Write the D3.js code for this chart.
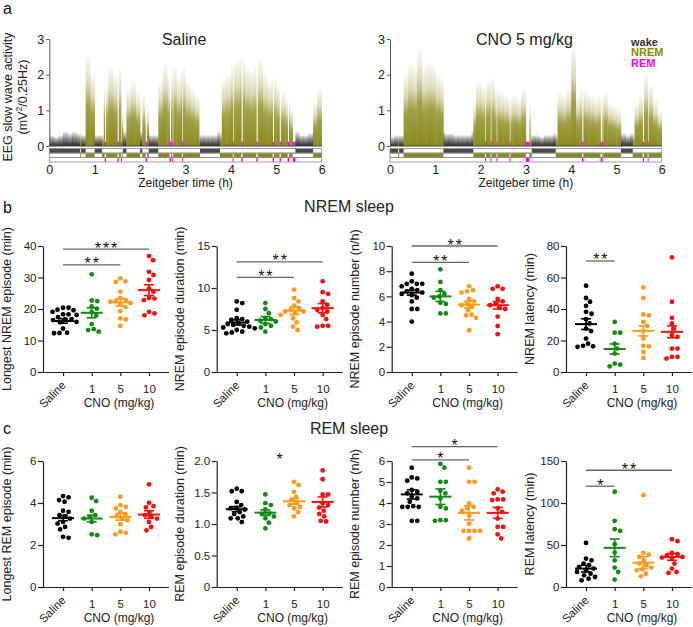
<!DOCTYPE html>
<html><head><meta charset="utf-8">
<script src="https://cdn.jsdelivr.net/npm/d3@7"></script>
<style>body{margin:0;background:#fff}svg{font-family:"Liberation Sans",Arial,Helvetica,sans-serif}</style>
</head><body><svg id="c" width="693" height="627"></svg>
<script>
// ---------------- DATA ----------------
const hourTicks = [0, 1, 2, 3, 4, 5, 6];
const swaTicks = [0, 1, 2, 3];
// EEG slow-wave activity envelope, 0.1 h bins (mV^2/0.25Hz)
const salineSWA = [0.3,0.25,0.3,0.4,0.35,0.45,0.35,0.3,2.5,2.0,
  0.3,0.3,1.7,2.2,2.0,2.2,1.0,1.6,1.8,1.5,
  1.4,1.0,0.3,0.3,1.8,2.3,1.9,2.2,1.9,2.2,
  1.8,1.6,1.4,0.3,0.3,0.3,0.3,0.4,1.9,2.0,
  2.3,2.4,2.5,2.2,2.1,2.2,2.4,2.0,1.8,1.9,
  1.7,1.5,1.3,1.0,0.6,0.3,0.3,0.35,1.2,1.6];
const cnoSWA = [0.25,0.3,0.3,2.0,2.3,2.2,2.7,2.2,2.3,2.3,
  2.0,1.9,0.35,0.35,0.3,0.3,0.3,0.3,1.2,1.8,
  1.7,1.8,1.9,1.6,1.5,1.4,1.3,1.4,1.3,1.6,
  1.2,0.3,0.3,0.25,0.3,0.3,0.35,1.5,1.4,1.6,
  2.8,1.4,1.6,1.5,1.4,1.3,1.4,1.5,1.2,1.1,
  1.0,0.35,0.3,0.35,1.2,1.4,2.0,1.7,1.3,1.0];
// sleep-state episodes [start h, end h]
const salineNREM = [[0.68,0.70],[0.80,1.00],[1.16,1.62],[1.70,2.00],[2.05,2.19],[2.40,3.32],[3.76,5.42],[5.81,6.0]];
const salineREM = [[1.22,1.25],[1.50,1.53],[1.58,1.60],[2.12,2.15],[2.65,2.68],[2.71,2.73],[2.92,2.94],[4.04,4.06],[4.23,4.26],[4.56,4.59],[4.92,4.95],[5.07,5.10],[5.25,5.28],[5.36,5.42]];
const cnoNREM = [[0.18,0.20],[0.30,1.18],[1.84,3.13],[3.66,5.10],[5.36,6.0]];
const cnoREM = [[2.10,2.12],[2.22,2.24],[2.35,2.37],[2.64,2.66],[3.00,3.08],[4.24,4.27],[4.65,4.68],[4.69,4.71],[5.58,5.61],[5.69,5.71]];

const groups = ["Saline", "1", "5", "10"];

// b: NREM sleep  (per group: Saline, CNO 1, 5, 10 mg/kg)
const longestNREM = [
  [20.4,20.4,19.8,19.6,19.1,18.3,18.3,18.1,17.4,16.8,16.7,16.5,15.9,15.8,13.8,12.4,12.5,12.3],
  [31.0,22.7,22.5,20.8,20.1,19.0,18.0,15.2,13.6,13.3,12.8],
  [29.7,28.6,28.8,25.5,23.5,22.9,22.3,22.5,21.9,21.4,20.6,19.3,17.0,16.7,14.6],
  [36.8,35.5,31.8,30.8,29.2,26.5,25.5,23.3,22.8,23.5,19.1,18.0,18.6]];
const longestNREMMean = [16.2, 18.8, 22.1, 26.0];
const longestNREMSem = [0.7, 1.6, 1.2, 1.7];

const nremDuration = [
  [8.4,8.2,7.4,6.4,6.3,6.2,6.0,5.8,5.7,5.6,5.5,5.4,5.3,5.2,5.0,4.8,4.6,4.7],
  [8.2,7.5,7.0,6.4,6.3,6.1,6.0,5.7,5.5,5.3,4.8],
  [9.8,8.8,8.4,7.9,7.6,7.4,7.2,7.2,7.0,6.8,6.4,5.9,5.4,5.0],
  [10.8,9.5,9.3,8.4,8.0,7.6,7.4,7.2,6.8,6.3,5.5,5.5,5.4]];
const nremDurationMean = [5.9, 6.2, 7.3, 7.6];
const nremDurationSem = [0.3, 0.4, 0.45, 0.55];

const nremNumber = [
  [7.8,7.2,7.0,7.0,7.0,6.8,6.6,6.5,6.4,6.3,6.2,6.1,5.9,5.6,5.0,5.0,4.0],
  [8.15,7.15,6.5,6.2,6.0,5.9,5.5,5.4,4.65,4.65],
  [6.8,6.5,6.4,6.3,5.8,5.6,5.4,5.3,5.2,4.9,4.55,4.5,4.3,3.3],
  [6.8,6.6,6.6,5.8,5.6,5.4,5.3,5.1,5.0,4.4,3.65,3.0]];
const nremNumberMean = [6.3, 6.0, 5.35, 5.3];
const nremNumberSem = [0.2, 0.4, 0.27, 0.3];

const nremLatency = [
  [54.8,47.0,44.6,42.0,38.2,37.0,33.5,30.8,27.6,26.0,21.2,18.0,16.6,16.0,16.3],
  [31.8,25.0,25.0,18.0,14.9,11.7,5.3,4.7,3.6],
  [53.7,47.0,36.5,36.0,31.8,29.3,26.0,21.2,16.6,16.3,12.7,8.9],
  [72.8,44.6,34.4,30.8,27.6,23.4,22.3,14.9,14.9,9.6,8.5,9.6]];
const nremLatencyMean = [30.4, 14.6, 26.1, 25.5];
const nremLatencySem = [3.4, 3.2, 3.2, 3.8];

// c: REM sleep
const longestREM = [
  [4.33,4.27,4.14,4.06,3.63,3.58,3.42,3.37,3.26,3.10,3.02,2.86,2.74,2.39,2.34],
  [4.25,4.09,3.63,3.42,3.34,3.26,3.10,2.51,2.47],
  [4.30,3.90,3.82,3.74,3.58,3.47,3.37,3.26,3.18,2.99,2.63,2.58,2.51],
  [4.89,4.01,3.85,3.79,3.58,3.42,3.34,3.26,3.10,2.86,2.70]];
const longestREMMean = [3.28, 3.26, 3.34, 3.45];
const longestREMSem = [0.13, 0.16, 0.16, 0.18];

const remDuration = [
  [1.56,1.52,1.52,1.35,1.30,1.26,1.25,1.23,1.19,1.16,1.12,1.09,1.09,1.03],
  [1.47,1.33,1.30,1.23,1.17,1.16,1.12,1.09,1.02,0.93],
  [1.67,1.62,1.51,1.43,1.38,1.34,1.30,1.27,1.25,1.19,1.12],
  [1.85,1.71,1.47,1.47,1.33,1.30,1.26,1.21,1.16,1.12,1.05,1.04]];
const remDurationMean = [1.235, 1.18, 1.36, 1.35];
const remDurationSem = [0.04, 0.045, 0.045, 0.08];

const remNumber = [
  [5.68,5.22,5.17,5.06,4.62,4.54,4.46,4.30,4.22,4.06,3.85,3.82,3.82,3.82,3.15,3.15],
  [5.86,5.68,5.01,5.01,4.58,4.46,4.22,3.82,3.74,3.18,3.18,3.15],
  [5.68,5.01,5.01,3.98,3.82,3.74,3.63,3.42,3.02,2.67,2.67,2.67,2.67,2.31],
  [4.65,4.54,4.46,4.17,4.17,4.14,3.74,3.58,3.26,2.86,2.86,2.51,2.31]];
const remNumberMean = [4.41, 4.3, 3.53, 3.53];
const remNumberSem = [0.22, 0.37, 0.34, 0.26];

const remLatency = [
  [52.5,33.8,31.8,27.9,25.9,23.9,21.9,19.9,17.9,15.9,13.9,11.9,9.9,8.0],
  [113.4,78.8,68.8,66.9,51.0,41.0,31.8,23.1,17.9,8.8],
  [109.4,40.6,38.6,35.8,31.8,27.9,25.9,23.1,21.1,19.9,15.9,12.7],
  [56.9,54.5,40.6,39.0,37.8,35.8,35.0,33.8,27.9,21.9,17.9,16.7]];
const remLatencyMean = [21.9, 46.6, 29.0, 35.8];
const remLatencySem = [4, 10.5, 7, 4];

// significance annotations [from group, to group, level, label, drawLine]
const sigLongestNREM = [[0,3,39.0,"***"],[0,2,34.0,"**"]];
const sigNremDuration = [[0,3,13.1,"**"],[0,2,11.26,"**"]];
const sigNremNumber = [[0,3,10.0,"**"],[0,2,8.7,"**"]];
const sigNremLatency = [[0,1,70.5,"**"]];
const sigRemDuration = [[1,2,2.01,"*",false]];
const sigRemNumber = [[0,3,6.68,"*"],[0,2,6.05,"*"]];
const sigRemLatency = [[0,3,139,"**"],[0,1,120,"*"]];

// ---------------- STYLE ----------------
const C_OLIVE = "#8a8a1c", C_MAG = "#ff00ff", C_WAKE = "#1e1e1e";
const groupColors = ["#000000", "#138a13", "#ff9a1a", "#ff0d0d"];
const AX = "#222";
const svg = d3.select("#c");
const defs = svg.append("defs");
function grad(id, color, stops) {
  const g = defs.append("linearGradient").attr("id", id).attr("x1", 0).attr("y1", 0).attr("x2", 0).attr("y2", 1);
  stops.forEach(s => g.append("stop").attr("offset", s[0]).attr("stop-color", color).attr("stop-opacity", s[1]));
}
grad("gN", C_OLIVE, [[0, 0.04], [0.3, 0.3], [0.55, 0.8], [1, 1]]);
grad("gW", C_WAKE, [[0, 0.08], [0.45, 0.5], [1, 0.95]]);

// ---------------- PANEL a ----------------
function drawEEG(xr, swa, nrem, rem, title, yLabel) {
  const x = d3.scaleLinear().domain([0, 6]).range(xr);
  const y = d3.scaleLinear().domain([0, 3]).range([146, 39]);
  const g = svg.append("g");
  const pts = [0, 6];
  nrem.concat(rem).forEach(d => pts.push(d[0], d[1]));
  const bp = Array.from(new Set(pts)).sort((a, b) => a - b);
  const inside = (arr, t) => arr.some(d => t >= d[0] && t < d[1]);
  const iv = [];
  for (let i = 0; i < bp.length - 1; i++) {
    const a = bp[i], b = bp[i + 1];
    if (b - a < 1e-9) continue;
    const m = (a + b) / 2;
    iv.push({a, b, s: inside(rem, m) ? "rem" : inside(nrem, m) ? "nrem" : "wake"});
  }
  const bw = 6 / swa.length;
  const bars = [];
  iv.forEach(d => {
    for (let k = Math.max(0, Math.floor(d.a / bw - 1e-9)); k < swa.length && k * bw < d.b; k++) {
      const a = Math.max(d.a, k * bw), b = Math.min(d.b, (k + 1) * bw);
      if (b - a < 1e-9) continue;
      let v = swa[k];
      if (d.s === "wake") v = Math.min(v, 0.4);
      if (d.s === "rem") v = 0.12;
      bars.push({a, b, v, s: d.s});
    }
  });
  g.selectAll("rect.tr").data(bars).join("rect")
    .attr("x", d => x(d.a)).attr("width", d => Math.max(0.6, x(d.b) - x(d.a) + 0.3))
    .attr("y", d => y(d.v)).attr("height", d => y(0) - y(d.v))
    .attr("fill", d => d.s === "nrem" ? "url(#gN)" : d.s === "wake" ? "url(#gW)" : C_MAG);
  // baseline
  g.append("line").attr("x1", x(0)).attr("x2", x(6)).attr("y1", y(0)).attr("y2", y(0))
    .attr("stroke", "#444").attr("stroke-width", 1.2);
  // y axis
  const ya = g.append("g").attr("transform", `translate(${x(0)},0)`)
    .call(d3.axisLeft(y).tickValues(swaTicks).tickSize(3).tickSizeOuter(0).tickFormat(d3.format("d")));
  ya.select(".domain").attr("stroke", "#555");
  ya.selectAll(".tick line").attr("stroke", "#555");
  ya.selectAll("text").attr("font-size", 12.5).attr("fill", "#222").attr("font-family", null).attr("x", -5);
  // hypnogram
  const rows = [[148.6, "wake"], [153.2, "nrem"], [157.6, "rem"]];
  const rh = 4.4;
  rows.forEach(r => {
    g.selectAll(null).data(iv.filter(d => d.s === r[1])).join("rect")
      .attr("x", d => x(d.a)).attr("width", d => Math.max(0.8, x(d.b) - x(d.a)))
      .attr("y", r[0]).attr("height", rh)
      .attr("fill", r[1] === "wake" ? "#4a4a4a" : r[1] === "nrem" ? C_OLIVE : C_MAG);
    g.append("rect").attr("x", x(0)).attr("width", x(6) - x(0)).attr("y", r[0]).attr("height", rh)
      .attr("fill", "none").attr("stroke", "#8a8a8a").attr("stroke-width", 0.8);
  });
  // x axis labels
  const xa = g.append("g").attr("transform", `translate(0,162)`)
    .call(d3.axisBottom(x).tickValues(hourTicks).tickSize(0).tickFormat(d3.format("d")));
  xa.select(".domain").remove();
  xa.selectAll("text").attr("font-size", 12.5).attr("fill", "#222").attr("font-family", null).attr("dy", null).attr("y", 11.5);
  g.append("text").attr("x", (x(0) + x(6)) / 2).attr("y", 186.5).attr("text-anchor", "middle")
    .attr("font-size", 12).attr("fill", "#222").text("Zeitgeber time (h)");
  g.append("text").attr("x", x(2.97)).attr("y", 45).attr("text-anchor", "middle")
    .attr("font-size", 16).attr("fill", "#222").text(title);
  if (yLabel) {
    g.append("text").attr("transform", "translate(11.5,97) rotate(-90)").attr("text-anchor", "middle")
      .attr("font-size", 12.5).attr("fill", "#222").text("EEG slow wave activity");
    const t = g.append("text").attr("transform", "translate(27,97) rotate(-90)").attr("text-anchor", "middle")
      .attr("font-size", 12.5).attr("fill", "#222");
    t.append("tspan").text("(mV");
    t.append("tspan").attr("font-size", 8.5).attr("dy", -5).text("2");
    t.append("tspan").attr("dy", 5).text("/0.25Hz)");
  }
}
drawEEG([49.3, 321.7], salineSWA, salineNREM, salineREM, "Saline", true);
drawEEG([390, 661.7], cnoSWA, cnoNREM, cnoREM, "CNO 5 mg/kg", false);

// legend
[["wake", "#333333", 45.5], ["NREM", "#8a8a00", 56], ["REM", C_MAG, 66.5]].forEach(l =>
  svg.append("text").attr("x", 631).attr("y", l[2]).attr("font-size", 11).attr("font-weight", "bold")
    .attr("fill", l[1]).text(l[0]));

// ---------------- PANELS b, c ----------------
function beeswarm(vals, y, r) {
  const order = vals.map((v, i) => i).sort((a, b) => vals[b] - vals[a]);
  const placed = [], out = new Array(vals.length);
  const dmin = 2 * r + 0.6;
  order.forEach(i => {
    const py = y(vals[i]);
    let px = 0;
    for (let k = 0; k < 80; k++) {
      const c = (k % 2 ? 1 : -1) * Math.ceil(k / 2) * 0.5;
      if (placed.every(p => Math.hypot(p[0] - c, p[1] - py) >= dmin)) { px = c; break; }
    }
    placed.push([px, py]);
    out[i] = px;
  });
  return out;
}

function scatterPanel(cfg) {
  const W = 126;
  const g = svg.append("g");
  const x = d3.scalePoint().domain(groups).range([cfg.ax, cfg.ax + W]).padding(0.7);
  const y = d3.scaleLinear().domain([0, cfg.max]).range([cfg.y0, cfg.y0 - 126]);
  // axes
  const ya = g.append("g").attr("transform", `translate(${cfg.ax},0)`)
    .call(d3.axisLeft(y).tickValues(cfg.ticks).tickSize(5).tickSizeOuter(0).tickFormat(cfg.fmt || d3.format("d")));
  ya.selectAll("text").attr("font-size", 11.5).attr("fill", "#222").attr("font-family", null).attr("x", -6.5);
  const xa = g.append("g").attr("transform", `translate(0,${cfg.y0})`)
    .call(d3.axisBottom(x).tickSize(4).tickSizeOuter(0));
  xa.select(".domain").attr("d", `M${cfg.ax},0.5H${cfg.ax + W}`);
  xa.selectAll("text").attr("font-size", 11.5).attr("fill", "#222").attr("font-family", null).attr("dy", null).attr("y", 20.5);
  xa.selectAll(".tick").filter(d => d === "Saline").select("text")
    .attr("text-anchor", "end").attr("y", null).attr("transform", "translate(3,14) rotate(-45)");
  [ya, xa].forEach(a => { a.selectAll(".domain, .tick line").attr("stroke", AX).attr("stroke-width", 1.2); });
  g.append("text").attr("x", cfg.ax + 76).attr("y", cfg.y0 + 35).attr("text-anchor", "middle")
    .attr("font-size", 12).attr("fill", "#222").text("CNO (mg/kg)");
  g.append("text").attr("transform", `translate(${cfg.ax - 32.5},${cfg.y0 - 63}) rotate(-90)`)
    .attr("text-anchor", "middle").attr("font-size", 12.5).attr("fill", "#222").text(cfg.label);
  // points
  cfg.data.forEach((vals, gi) => {
    const off = beeswarm(vals, y, 2.4);
    const cx = x(groups[gi]);
    g.selectAll(null).data(vals).join("circle")
      .attr("cx", (d, i) => cx + off[i]).attr("cy", d => y(d)).attr("r", 2.4)
      .attr("fill", groupColors[gi]);
    const m = cfg.mean[gi], s = cfg.sem[gi];
    const c = groupColors[gi];
    g.append("line").attr("x1", cx - 11).attr("x2", cx + 11).attr("y1", y(m)).attr("y2", y(m))
      .attr("stroke", c).attr("stroke-width", 2);
    g.append("line").attr("x1", cx).attr("x2", cx).attr("y1", y(m - s)).attr("y2", y(m + s))
      .attr("stroke", c).attr("stroke-width", 1.6);
    [m - s, m + s].forEach(v => g.append("line").attr("x1", cx - 5).attr("x2", cx + 5)
      .attr("y1", y(v)).attr("y2", y(v)).attr("stroke", c).attr("stroke-width", 1.6));
  });
  // significance
  (cfg.sig || []).forEach(sg => {
    const x1 = x(groups[sg[0]]), x2 = x(groups[sg[1]]), ly = y(sg[2]);
    if (sg[4] !== false) g.append("line").attr("x1", x1).attr("x2", x2).attr("y1", ly).attr("y2", ly)
      .attr("stroke", "#666").attr("stroke-width", 1.3);
    g.append("text").attr("x", (x1 + x2) / 2 + 1).attr("y", ly + 4.5).attr("text-anchor", "middle")
      .attr("font-size", 16).attr("letter-spacing", 2).attr("fill", "#111").text(sg[3]);
  });
}

const colX = [43, 216.7, 391.7, 566];
const rowB = 372, rowC = 587;
scatterPanel({ax: colX[0], y0: rowB, max: 40, ticks: [0,10,20,30,40], data: longestNREM, mean: longestNREMMean, sem: longestNREMSem, label: "Longest NREM episode (min)", sig: sigLongestNREM});
scatterPanel({ax: colX[1], y0: rowB, max: 15, ticks: [0,5,10,15], data: nremDuration, mean: nremDurationMean, sem: nremDurationSem, label: "NREM episode duration (min)", sig: sigNremDuration});
scatterPanel({ax: colX[2], y0: rowB, max: 10, ticks: [0,2,4,6,8,10], data: nremNumber, mean: nremNumberMean, sem: nremNumberSem, label: "NREM episode number (n/h)", sig: sigNremNumber});
scatterPanel({ax: colX[3], y0: rowB, max: 80, ticks: [0,20,40,60,80], data: nremLatency, mean: nremLatencyMean, sem: nremLatencySem, label: "NREM latency (min)", sig: sigNremLatency});
scatterPanel({ax: colX[0], y0: rowC, max: 6, ticks: [0,2,4,6], data: longestREM, mean: longestREMMean, sem: longestREMSem, label: "Longest REM episode (min)"});
scatterPanel({ax: colX[1], y0: rowC, max: 2, ticks: [0,0.5,1,1.5,2], fmt: d => d === 0 ? "0" : d3.format(".1f")(d), data: remDuration, mean: remDurationMean, sem: remDurationSem, label: "REM episode duration (min)", sig: sigRemDuration});
scatterPanel({ax: colX[2], y0: rowC, max: 6, ticks: [0,1,2,3,4,5,6], data: remNumber, mean: remNumberMean, sem: remNumberSem, label: "REM episode number (n/h)", sig: sigRemNumber});
scatterPanel({ax: colX[3], y0: rowC, max: 150, ticks: [0,50,100,150], data: remLatency, mean: remLatencyMean, sem: remLatencySem, label: "REM latency (min)", sig: sigRemLatency});

// titles and panel letters
svg.append("text").attr("x", 349).attr("y", 212).attr("text-anchor", "middle").attr("font-size", 16).attr("fill", "#222").text("NREM sleep");
svg.append("text").attr("x", 349).attr("y", 434).attr("text-anchor", "middle").attr("font-size", 16).attr("fill", "#222").text("REM sleep");
[["a", 14], ["b", 213], ["c", 434]].forEach(l =>
  svg.append("text").attr("x", 3).attr("y", l[1]).attr("font-size", 16).attr("fill", "#111").text(l[0]));
</script></body></html>
